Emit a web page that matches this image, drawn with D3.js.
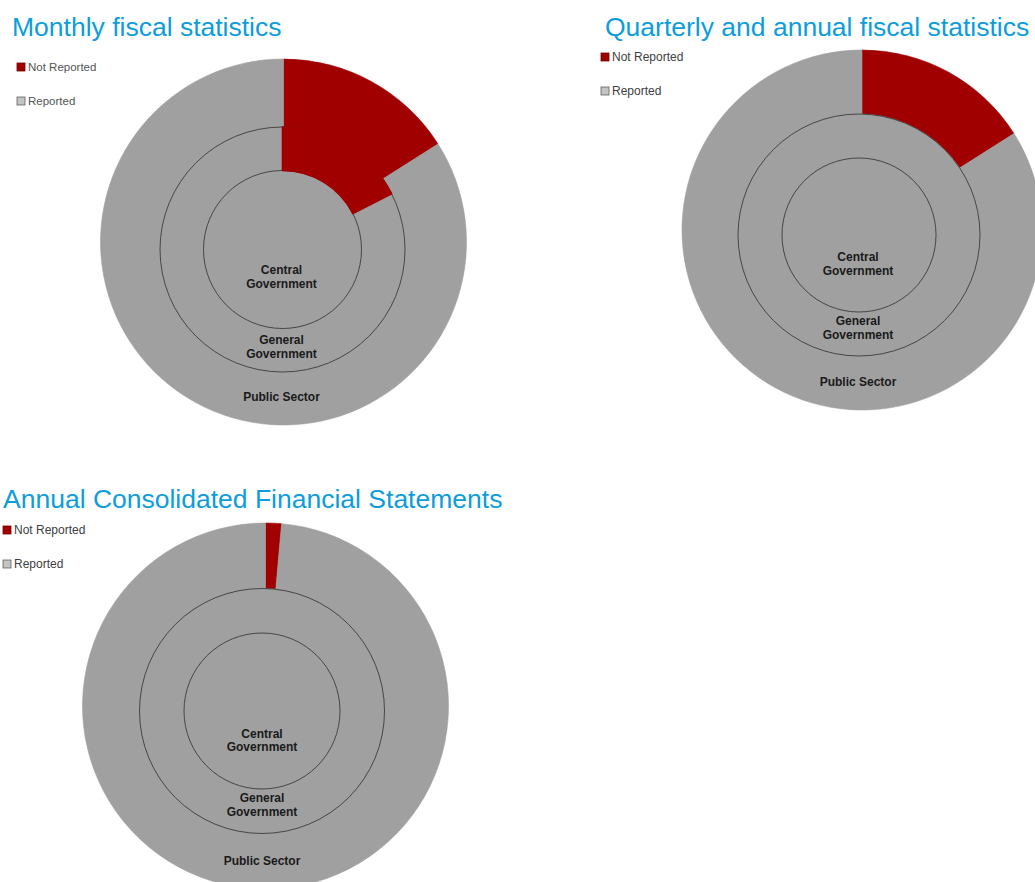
<!DOCTYPE html>
<html>
<head>
<meta charset="utf-8">
<script src="https://cdn.jsdelivr.net/npm/d3@7"></script>
<style>
  html, body { margin: 0; padding: 0; background: #ffffff; }
  svg { display: block; }
</style>
</head>
<body>
<svg id="chart" width="1035" height="882"></svg>
<script>
// ---------------- data ----------------
const chartTitles = [
  "Monthly fiscal statistics",
  "Quarterly and annual fiscal statistics",
  "Annual Consolidated Financial Statements"
];
const sectors = ["Central Government", "General Government", "Public Sector"];
const statuses = ["Not Reported", "Reported"];

// share (%) per sector, order: Central, General, Public
const monthlyNotReported   = [0, 17.5, 16];
const monthlyReported      = [100, 82.5, 84];
const quarterlyNotReported = [0, 0, 16];
const quarterlyReported    = [100, 100, 84];
const annualNotReported    = [0, 0, 1.4];
const annualReported       = [100, 100, 98.6];

const seriesNotReported = [monthlyNotReported, quarterlyNotReported, annualNotReported];
const seriesReported    = [monthlyReported, quarterlyReported, annualReported];

// ---------------- layout ----------------
// outer: centre + radius of Public Sector disk; inner: centre of the two inner rings
const layouts = [
  { ox: 283.5, oy: 242, or: 183, cx: 282.5, cy: 249.5, r: [79, 122.5],
    titleX: 12, titleY: 36, legX: 17, legY: [67, 101],
    labelDy: [[20.5, 34.5], [90.5, 104.5], [147.5]], labelDx: -1, legSize: 11.5, legColor: "#555" },
  { ox: 862, oy: 230, or: 180, cx: 859, cy: 235, r: [77, 121],
    titleX: 605, titleY: 36, legX: 601, legY: [57, 91],
    labelDy: [[22, 36], [86, 100], [147]], labelDx: -1, legSize: 12, legColor: "#404040" },
  { ox: 265.5, oy: 706, or: 183, cx: 262, cy: 711, r: [78, 122.5],
    titleX: 3, titleY: 508, legX: 3, legY: [530, 564],
    labelDy: [[23, 36], [87, 101], [150]], labelDx: 0, legSize: 12, legColor: "#404040" }
];

const color = d3.scaleOrdinal().domain(statuses).range(["#a00000", "#a0a0a0"]);
const legendFill = d3.scaleOrdinal().domain(statuses).range(["#a00000", "#c4c4c4"]);
const legendStroke = d3.scaleOrdinal().domain(statuses).range(["#7a0000", "#606060"]);

const svg = d3.select("#chart");
const pie = d3.pie().sort(null).value(d => d.value);

layouts.forEach((L, ci) => {
  // title
  svg.append("text")
    .attr("x", L.titleX).attr("y", L.titleY)
    .attr("font-family", "'Liberation Sans', Arial, sans-serif")
    .attr("font-size", 26.5)
    .attr("fill", "#0d9ddb")
    .text(chartTitles[ci]);

  // legend
  statuses.forEach((s, si) => {
    svg.append("rect")
      .attr("x", L.legX).attr("y", L.legY[si] - 4)
      .attr("width", 8).attr("height", 8)
      .attr("fill", legendFill(s))
      .attr("stroke", legendStroke(s)).attr("stroke-width", 0.8);
    svg.append("text")
      .attr("x", L.legX + 11).attr("y", L.legY[si])
      .attr("dy", "0.35em")
      .attr("font-family", "'Liberation Sans', Arial, sans-serif")
      .attr("font-size", L.legSize)
      .attr("fill", L.legColor)
      .text(s);
  });

  const ringData = sectors.map((sec, k) => {
    const vals = [
      { status: statuses[0], value: seriesNotReported[ci][k] },
      { status: statuses[1], value: seriesReported[ci][k] }
    ];
    return { sector: sec, k, arcs: pie(vals) };
  });

  // outer disk (Public Sector)
  const go = svg.append("g").attr("transform", `translate(${L.ox},${L.oy})`);
  const outerArc = d3.arc().innerRadius(0).outerRadius(L.or);
  go.selectAll(null)
    .data(ringData[2].arcs.filter(a => a.data.value > 0))
    .join("path")
    .attr("d", outerArc)
    .attr("fill", d => color(d.data.status))
    .attr("stroke", d => color(d.data.status))
    .attr("stroke-width", 0.6);

  // inner rings (General annulus, Central disk)
  const g = svg.append("g").attr("transform", `translate(${L.cx},${L.cy})`);
  const arcFor = k => d3.arc()
    .innerRadius(k === 0 ? 0 : L.r[k - 1])
    .outerRadius(L.r[k]);

  [1, 0].forEach(k => {
    g.selectAll(null)
      .data(ringData[k].arcs.filter(a => a.data.status === statuses[1] && a.data.value > 0))
      .join("path")
      .attr("d", arcFor(k))
      .attr("fill", d => color(d.data.status))
      .attr("stroke", d => color(d.data.status))
      .attr("stroke-width", 0.6);
  });

  // ring boundary lines
  L.r.forEach(rad => {
    g.append("circle")
      .attr("r", rad)
      .attr("fill", "none")
      .attr("stroke", "#3c3c3c")
      .attr("stroke-width", 0.9);
  });

  // red (not reported) arcs of inner rings on top
  [1, 0].forEach(k => {
    g.selectAll(null)
      .data(ringData[k].arcs.filter(a => a.data.status === statuses[0] && a.data.value > 0))
      .join("path")
      .attr("d", arcFor(k))
      .attr("fill", d => color(d.data.status))
      .attr("stroke", d => color(d.data.status))
      .attr("stroke-width", 1.6)
      .attr("stroke-linejoin", "round");
  });

  // sector labels
  sectors.forEach((sec, k) => {
    const lines = k === 2 ? [sec] : sec.split(" ");
    lines.forEach((ln, li) => {
      g.append("text")
        .attr("x", L.labelDx)
        .attr("y", L.labelDy[k][li])
        .attr("dy", "0.35em")
        .attr("text-anchor", "middle")
        .attr("font-family", "'Liberation Sans', Arial, sans-serif")
        .attr("font-weight", "bold")
        .attr("font-size", 12)
        .attr("fill", "#1a1a1a")
        .text(ln);
    });
  });
});
</script>
</body>
</html>
